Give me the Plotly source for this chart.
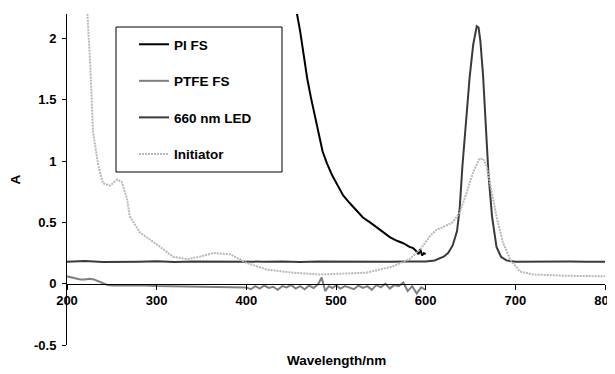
import plotly.graph_objects as go

# PI FS
pi_wl = [452, 456, 460, 464, 468, 472, 476, 480, 485, 490, 496, 502, 508, 515, 522, 530, 538, 545, 552, 560, 568, 575, 582, 586, 589, 592, 594, 596, 598, 600]
pi_a = [2.45, 2.22, 2.06, 1.86, 1.67, 1.52, 1.38, 1.25, 1.08, 0.98, 0.88, 0.80, 0.72, 0.66, 0.60, 0.54, 0.50, 0.46, 0.42, 0.38, 0.35, 0.33, 0.30, 0.29, 0.27, 0.24, 0.28, 0.23, 0.25, 0.24]

# PTFE FS
ptfe_wl = [200, 205, 210, 215, 220, 225, 230, 235, 240, 245, 250, 260, 270, 280, 300, 320, 340, 360, 380, 390, 400,
           405, 410, 415, 420, 425, 430, 435, 440, 445, 450, 455, 460, 465, 470, 475, 480, 484, 488, 492, 496,
           500, 505, 510, 515, 520, 525, 530, 535, 540, 545, 550, 555, 560, 565, 570, 575, 580, 585, 590, 595, 600]
ptfe_a = [0.06, 0.05, 0.04, 0.035, 0.035, 0.04, 0.035, 0.02, 0.005, -0.01, -0.015, -0.012, -0.01, -0.012, -0.018, -0.02, -0.022, -0.025, -0.028, -0.03, -0.03,
          -0.045, -0.02, -0.04, -0.015, -0.035, -0.025, -0.05, -0.02, -0.03, -0.01, -0.04, -0.02, -0.045, -0.015, -0.035, -0.005, 0.05, -0.06, -0.02, -0.035,
          -0.015, -0.04, -0.02, -0.03, -0.045, -0.015, -0.035, -0.02, -0.05, -0.01, -0.03, 0.0, -0.04, -0.01, -0.02, 0.01, -0.06, -0.02, -0.08, -0.03, -0.05]

# 660 nm LED
led_wl = [200, 220, 240, 260, 280, 300, 320, 340, 360, 380, 400, 420, 440, 460, 480, 500, 520, 540, 560, 580, 600, 610,
          620, 625, 630, 635, 638, 641, 645, 649, 653, 657, 659, 661, 664, 667, 670, 674, 679, 684, 690, 700, 720, 740, 760, 780, 800]
led_a = [0.18, 0.185, 0.178, 0.182, 0.18, 0.183, 0.178, 0.181, 0.18, 0.184, 0.179, 0.18, 0.182, 0.178, 0.181, 0.18, 0.183, 0.179, 0.18, 0.182, 0.182, 0.19,
         0.22, 0.25, 0.31, 0.43, 0.62, 0.96, 1.35, 1.68, 1.95, 2.10, 2.09, 1.98, 1.70, 1.30, 0.90, 0.55, 0.30, 0.22, 0.19, 0.18, 0.182, 0.179, 0.181, 0.18, 0.18]

# Initiator
ini_wl = [222, 226, 229, 235, 240, 248, 256, 261, 267, 270, 281, 293, 304, 318, 334, 348, 363, 382, 393, 400, 423, 452, 482, 497,
          534, 563, 582, 594, 605, 612, 619, 630, 638, 646, 653, 660, 664, 668, 674, 679, 686, 694, 705, 720, 757, 800]
ini_a = [2.3, 1.78, 1.24, 0.96, 0.82, 0.80, 0.85, 0.83, 0.69, 0.55, 0.42, 0.36, 0.30, 0.22, 0.20, 0.22, 0.25, 0.24, 0.20, 0.17, 0.115, 0.09, 0.075, 0.08,
         0.09, 0.14, 0.20, 0.28, 0.39, 0.44, 0.46, 0.50, 0.58, 0.75, 0.91, 1.02, 1.02, 0.96, 0.75, 0.55, 0.34, 0.20, 0.10, 0.075, 0.065, 0.06]

x_ticks = [200, 300, 400, 500, 600, 700, 800]
y_ticks = [-0.5, 0, 0.5, 1, 1.5, 2]
y_tick_text = ["-0.5", "0", "0.5", "1", "1.5", "2"]

FONT = "Liberation Sans, Arial, sans-serif"
YMIN, YMAX = -0.5, 2.2

# page body has an 8px margin; size the figure so the plot lands where the reference has it
W, H = 607, 366
L, T = 59, 6
PW, PH = 538, 331

def px(xp):  # reference x pixel -> paper fraction
    return (xp - 8 - L) / PW

def py(yp):  # reference y pixel -> paper fraction
    return (T + PH - (yp - 8)) / PH

fig = go.Figure()
fig.add_trace(go.Scatter(x=pi_wl, y=pi_a, mode="lines", name="<b>PI FS</b>",
                         line=dict(color="#000000", width=2), legendgroup="a"))
fig.add_trace(go.Scatter(x=ptfe_wl, y=ptfe_a, mode="lines", name="<b>PTFE FS</b>",
                         line=dict(color="#7f7f7f", width=2), legendgroup="b"))
fig.add_trace(go.Scatter(x=led_wl, y=led_a, mode="lines", name="<b>660 nm LED</b>",
                         line=dict(color="#3a3a3a", width=2), legendgroup="c"))
fig.add_trace(go.Scatter(x=ini_wl, y=ini_a, mode="lines", name="<b>Initiator</b>",
                         line=dict(color="#b8b8b8", width=2, dash="2px,1px"), legendgroup="d"))

fig.update_layout(
    width=W, height=H,
    margin=dict(l=L, r=W - L - PW, t=T, b=H - T - PH, autoexpand=False),
    paper_bgcolor="white", plot_bgcolor="white",
    font=dict(family=FONT, size=13, color="black"),
    showlegend=True,
    legend=dict(x=px(134), y=py(29), xanchor="left", yanchor="top",
                bgcolor="rgba(0,0,0,0)", borderwidth=0,
                font=dict(family=FONT, size=13.5, color="black"),
                tracegroupgap=16, traceorder="grouped"),
    xaxis=dict(range=[200, 800], tickvals=x_ticks, ticktext=[f"<b>{v}</b>" for v in x_ticks],
               showgrid=False, zeroline=False, showline=True, linecolor="black", linewidth=1,
               ticks="outside", ticklen=5, tickcolor="black", automargin=False,
               tickfont=dict(family=FONT, size=13), ticklabeloverflow="allow",
               anchor="free", position=(0 - YMIN) / (YMAX - YMIN)),
    yaxis=dict(range=[YMIN, YMAX], tickvals=y_ticks, ticktext=[f"<b>{t}</b>" for t in y_tick_text],
               showgrid=False, zeroline=False, showline=True, linecolor="black", linewidth=1,
               ticks="outside", ticklen=4, tickcolor="black", ticklabelstandoff=3, automargin=False,
               tickfont=dict(family=FONT, size=13),
               title=dict(text="<b>A</b>", standoff=14, font=dict(family=FONT, size=13.5))),
    shapes=[dict(type="rect", xref="paper", yref="paper",
                 x0=px(116), x1=px(282), y0=py(172), y1=py(27),
                 line=dict(color="black", width=1), fillcolor="rgba(0,0,0,0)", layer="above")],
    annotations=[dict(text="<b>Wavelength/nm</b>", xref="paper", yref="paper",
                      x=0.5, y=py(360), xanchor="center", yanchor="middle",
                      showarrow=False, font=dict(family=FONT, size=13.5, color="black"))],
)

fig.write_html("out.html")
